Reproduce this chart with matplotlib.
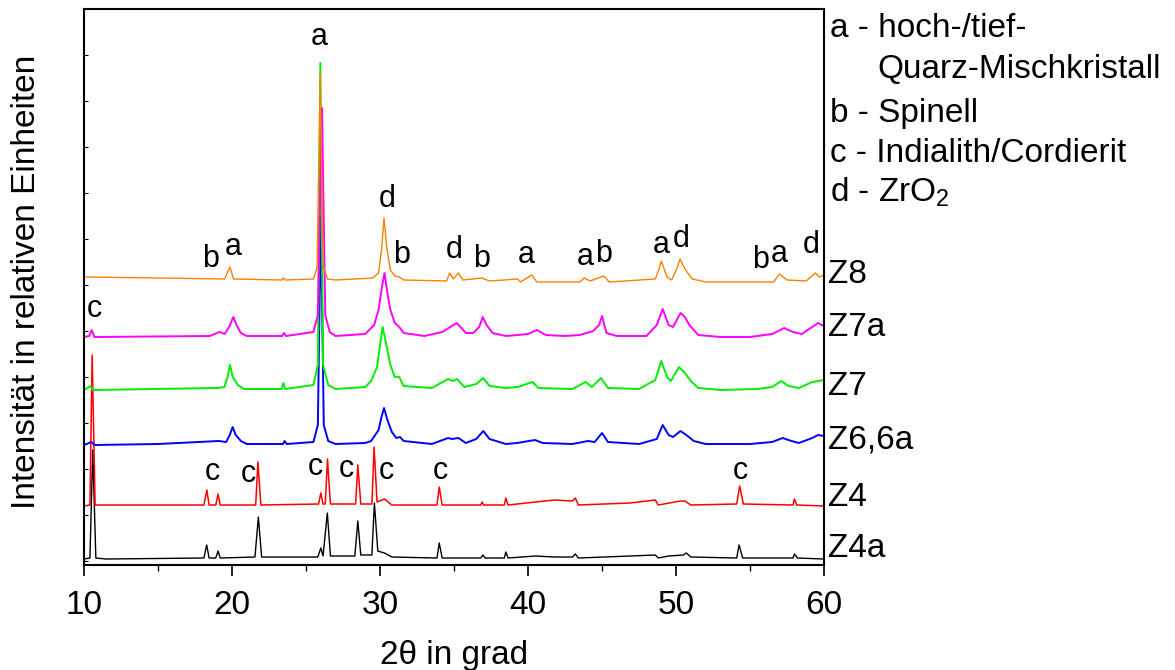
import numpy as np
import matplotlib

matplotlib.use("Agg")
import matplotlib.pyplot as plt
from matplotlib.ticker import MultipleLocator
import matplotlib.transforms as mtransforms

# XRD patterns, 2theta [deg] and intensity [rel. units, stacked]
z4a_tt = [10.0, 10.4, 10.59, 10.8, 11.5, 18.1, 18.29, 18.45, 18.9, 19.06, 19.2, 21.55, 21.78, 22.0,
          25.8, 26.0, 26.15, 26.44, 26.65, 28.3, 28.5, 28.7, 29.45, 29.62, 29.85, 30.3, 30.8,
          33.85, 34.0, 34.2, 36.8, 36.95, 37.1, 38.4, 38.5, 38.65, 40.5, 41.8, 43.0, 43.2, 43.4,
          46.9, 48.6, 48.8, 49.5, 50.5, 50.7, 51.0, 54.1, 54.26, 54.5, 57.9, 58.0, 58.2, 60.0]
z4a_i = [6, 7, 115, 7, 6, 7, 20, 7, 7, 14, 7, 8, 48, 8,
         8, 17, 9, 52, 9, 9, 44, 10, 10, 62, 14, 12, 8,
         7, 22, 7, 7, 10, 7, 7, 13, 7, 9, 8, 8, 11, 7,
         9, 10, 7, 9, 10, 12, 8, 7, 20, 7, 7, 11, 7, 6]

z4_tt = [10.0, 10.4, 10.55, 10.75, 18.1, 18.3, 18.45, 18.9, 19.06, 19.2, 21.6, 21.75, 21.95,
         25.85, 26.0, 26.15, 26.3, 26.45, 26.65, 28.35, 28.5, 28.7, 29.45, 29.6, 29.8, 30.3, 30.8,
         33.85, 34.0, 34.2, 36.8, 36.9, 37.0, 38.4, 38.5, 38.65, 40.5, 41.8, 43.0, 43.2, 43.4,
         46.9, 48.6, 48.8, 50.3, 50.6, 51.0, 54.1, 54.3, 54.55, 57.9, 58.0, 58.15, 60.0]
z4_i = [59, 60, 210, 60, 60, 75, 60, 60, 71, 60, 60, 103, 60,
        61, 72, 61, 61, 106, 61, 61, 100, 61, 61, 118, 63, 66, 60,
        60, 78, 60, 60, 63, 60, 60, 67, 60, 63, 65, 64, 67, 60,
        62, 65, 60, 64, 64, 60, 61, 79, 61, 60, 66, 60, 59]

z6_tt = [10.0, 10.5, 10.7, 15.0, 19.1, 19.6, 19.85, 20.04, 20.25, 20.6, 21.0, 23.45, 23.55, 23.7,
         25.5, 25.8, 26.0, 26.2, 26.5, 27.0, 29.0, 29.4, 29.9, 30.1, 30.27, 30.5, 30.8, 31.1,
         31.35, 31.6, 33.5, 34.6, 34.85, 35.3, 35.8, 36.5, 36.98, 37.4, 38.5, 39.26, 40.47, 41.0,
         43.0, 44.05, 44.5, 45.0, 45.4, 47.5, 48.7, 49.1, 49.5, 49.8, 50.3, 50.7, 51.2, 52.0,
         55.0, 56.5, 57.2, 57.8, 58.3, 59.2, 59.6, 60.0]
z6_i = [120, 123, 120, 121, 124, 123, 130, 138, 130, 124, 121, 121, 124, 121,
        123, 140, 350, 140, 124, 121, 122, 124, 135, 148, 157, 145, 133, 127,
        128, 124, 121, 127, 126, 127, 122, 126, 134, 126, 121, 122, 125, 122,
        121, 124, 123, 132, 123, 121, 126, 140, 130, 128, 134, 130, 124, 121,
        121, 123, 127, 124, 122, 127, 130, 129]

z7_tt = [10.0, 10.45, 10.6, 19.0, 19.5, 19.7, 19.86, 20.05, 20.4, 20.8, 23.35, 23.47, 23.6,
         25.5, 25.8, 25.97, 26.15, 26.5, 27.0, 29.0, 29.4, 29.8, 30.0, 30.18, 30.4, 30.7, 31.0,
         31.3, 31.6, 33.5, 34.6, 34.9, 35.2, 35.7, 36.5, 36.97, 37.4, 38.5, 39.3, 40.3, 40.7,
         43.0, 43.9, 44.3, 44.93, 45.4, 47.5, 48.6, 49.0, 49.4, 49.65, 50.2, 50.6, 51.0, 51.5,
         53.0, 55.5, 56.5, 57.1, 57.6, 58.3, 59.2, 60.0]
z7_i = [175, 179, 175, 177, 178, 188, 200, 188, 180, 176, 176, 182, 176,
        180, 200, 502, 200, 180, 176, 178, 184, 198, 220, 238, 222, 200, 188,
        188, 179, 177, 186, 184, 186, 178, 181, 187, 179, 177, 178, 183, 177,
        176, 183, 178, 187, 177, 176, 185, 204, 188, 184, 198, 192, 184, 177,
        175, 176, 178, 184, 179, 177, 183, 185]

z7a_tt = [10.0, 10.35, 10.52, 10.7, 18.5, 19.14, 19.5, 19.8, 20.09, 20.3, 20.6, 21.0, 23.4,
          23.5, 23.65, 25.5, 25.8, 26.08, 26.3, 26.6, 27.0, 29.0, 29.6, 29.9, 30.1, 30.3, 30.5,
          30.7, 31.0, 31.3, 31.6, 33.0, 34.2, 35.18, 35.8, 36.3, 36.7, 36.94, 37.2, 37.6, 38.5,
          39.3, 40.0, 40.6, 41.2, 42.5, 43.5, 44.4, 44.8, 45.0, 45.3, 46.0, 48.0, 48.7, 49.1,
          49.5, 49.8, 50.3, 50.6, 50.9, 51.5, 53.0, 55.0, 56.5, 57.3, 57.9, 58.5, 59.6, 60.0]
z7a_i = [228, 229, 235, 228, 229, 233, 231, 238, 248, 240, 232, 229, 229,
         232, 229, 233, 250, 457, 250, 233, 229, 231, 240, 255, 275, 292, 272,
         255, 242, 238, 232, 229, 233, 242, 232, 232, 238, 248, 240, 232, 229,
         230, 231, 235, 230, 229, 230, 234, 240, 249, 232, 229, 229, 240, 256,
         240, 238, 252, 248, 240, 230, 228, 228, 231, 237, 233, 231, 242, 239]

z8_tt = [10.0, 15.0, 19.5, 19.86, 20.1, 23.35, 23.47, 23.6, 25.5, 25.75, 25.96, 26.15, 26.45,
         27.0, 29.5, 29.9, 30.1, 30.27, 30.45, 30.7, 31.0, 31.3, 31.6, 34.5, 34.7, 34.95, 35.3,
         35.6, 36.87, 37.4, 39.3, 39.5, 40.25, 40.6, 43.5, 43.8, 44.2, 45.1, 45.5, 48.6, 48.85,
         49.0, 49.2, 49.4, 49.7, 50.05, 50.27, 50.6, 51.1, 52.0, 56.6, 56.98, 57.5, 58.8, 59.4,
         59.7, 60.0]
z8_i = [288, 287, 286, 298, 286, 285, 287, 285, 286, 298, 493, 300, 286,
        285, 287, 292, 315, 347, 318, 295, 289, 288, 285, 284, 292, 286, 292,
        285, 287, 284, 286, 283, 290, 283, 283, 287, 284, 289, 283, 286, 296,
        304, 296, 288, 285, 296, 306, 296, 286, 283, 283, 291, 285, 284, 292,
        288, 290]

# name, x, y, label height, colour, line width
samples = [
    ("Z4a", z4a_tt, z4a_i, 17, "#000000", 1.0),
    ("Z4", z4_tt, z4_i, 68, "#FF0000", 1.1),
    ("Z6,6a", z6_tt, z6_i, 125, "#0000FF", 1.4),
    ("Z7", z7_tt, z7_i, 179, "#00EE00", 1.4),
    ("Z7a", z7a_tt, z7a_i, 237, "#FF00FF", 1.4),
    ("Z8", z8_tt, z8_i, 290, "#FF8000", 1.0),
]

# phase markers: letter, 2theta, height
peak_labels = [
    ("a", 25.88, 520), ("b", 18.58, 298), ("a", 20.10, 310), ("d", 30.51, 358),
    ("b", 31.45, 302), ("d", 35.0, 307), ("b", 36.87, 298), ("a", 39.86, 302),
    ("a", 43.85, 300), ("b", 45.10, 303), ("a", 48.99, 312), ("d", 50.34, 318),
    ("b", 55.68, 297), ("a", 56.99, 303), ("d", 59.16, 312), ("c", 10.68, 248),
    ("c", 18.68, 85), ("c", 21.08, 83), ("c", 25.61, 90), ("c", 27.70, 88),
    ("c", 30.41, 86), ("c", 34.09, 86), ("c", 54.36, 86),
]

legend_lines = [
    ("a - hoch-/tief-", 1.008, 528),
    ("Quarz-Mischkristall", 1.072, 487),
    ("b - Spinell", 1.008, 443),
    ("c - Indialith/Cordierit", 1.008, 403),
    ("d - ZrO$_2$", 1.008, 363),
]

plt.rcParams["font.family"] = ["Liberation Sans", "DejaVu Sans"]
plt.rcParams["mathtext.fontset"] = "custom"
plt.rcParams["mathtext.rm"] = "Liberation Sans"
plt.rcParams["mathtext.it"] = "Liberation Sans:italic"

fig = plt.figure(figsize=(11.75, 6.7), dpi=100)
ax = fig.add_axes([0.0715, 0.1567, 0.6298, 0.8299])

for name, tt, inten, ylab, col, lw in samples:
    ax.plot(tt, inten, color=col, lw=lw)

ax.set_xlim(10, 60)
ax.set_ylim(0, 556)

trans = mtransforms.blended_transform_factory(ax.transAxes, ax.transData)
for name, tt, inten, ylab, col, lw in samples:
    ax.text(1.006, ylab, name, transform=trans, fontsize=24, va="center", ha="left", clip_on=False)

for letter, x, y in peak_labels:
    ax.text(x, y, letter, fontsize=22, ha="center", va="baseline")

for txt, x, y in legend_lines:
    ax.text(x, y, txt, transform=trans, fontsize=24, ha="left", va="baseline", clip_on=False)

ax.xaxis.set_major_locator(MultipleLocator(10))
ax.xaxis.set_minor_locator(MultipleLocator(5))
ax.set_yticks(np.arange(4, 556, 46))
ax.tick_params(axis="x", which="major", direction="out", length=8, width=1.2, labelsize=24, pad=10)
ax.tick_params(axis="x", which="minor", direction="out", length=4, width=1.0)
ax.tick_params(axis="y", direction="in", length=3, width=0.8, labelleft=False)
for sp in ax.spines.values():
    sp.set_linewidth(1.5)

ax.set_xlabel("2θ in grad", fontsize=24)
ax.xaxis.set_label_coords(0.5, -0.135)
ax.set_ylabel("Intensität in relativen Einheiten", fontsize=24)
ax.yaxis.set_label_coords(-0.057, 0.51)

fig.savefig("out.png", dpi=100)
